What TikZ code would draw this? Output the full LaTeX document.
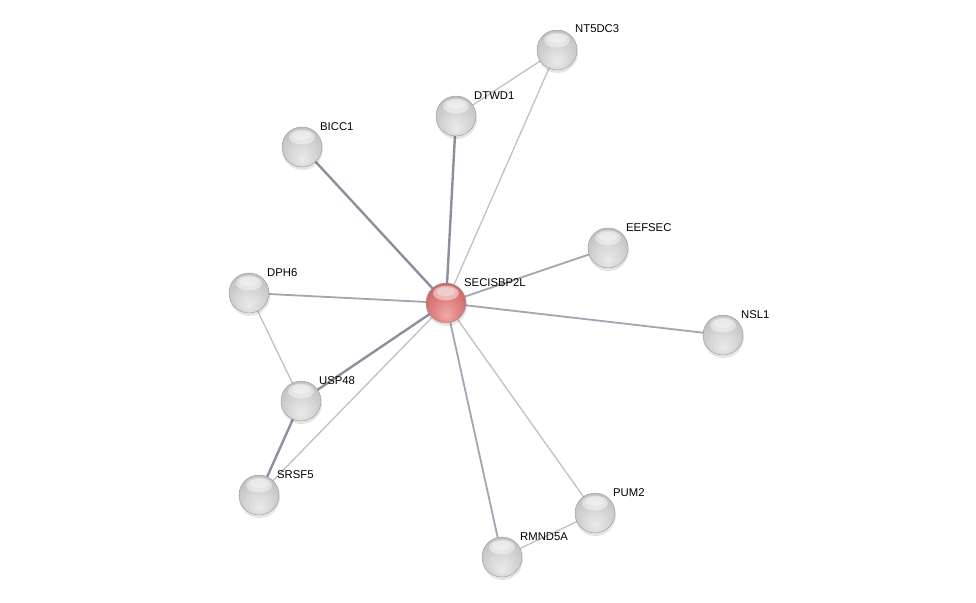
\documentclass[tikz,border=0pt]{standalone}
\usepackage{fontspec}
\setmainfont{Liberation Sans}
\pgfdeclareradialshading{greyball}{\pgfpoint{0bp}{-16bp}}{%
  color(0bp)=(white!92!black);
  color(16bp)=(white!84!black);
  color(30bp)=(white!76!black);
  color(42bp)=(white!64!black);
  color(50bp)=(white!50!black)}
\pgfdeclareradialshading{redball}{\pgfpoint{0bp}{-16bp}}{%
  color(0bp)=(red!30!white!95!black);
  color(16bp)=(red!42!white!88!black);
  color(30bp)=(red!50!white!80!black);
  color(42bp)=(red!58!white!66!black);
  color(50bp)=(red!62!white!52!black)}
\tikzset{
  edgethin/.style={draw=blue!6!white!80!black, line width=1.3pt},
  edgemid/.style={draw=blue!8!white!70!black, line width=1.8pt},
  edgethick/.style={draw=blue!10!white!62!black, line width=2.4pt},
  lbl/.style={font=\fontsize{11.3}{13}\selectfont, anchor=base west, inner sep=0pt},
}
\newcommand{\protnode}[5]{% name, x, y, label, shading
  \fill[black, opacity=0.10] (#2+0.5,#3+2.5) circle (20.5);
  \shade[shading=#5] (#2,#3) circle (20);
  \draw[black!40, line width=0.4pt] (#2,#3) circle (20);
  \fill[white, opacity=0.45] (#2,#3-10) ellipse (13 and 7.5);
  \fill[white, opacity=0.35] (#2,#3-11.5) ellipse (9.5 and 4.5);
  \node[circle, minimum size=40pt, inner sep=0pt] (#1) at (#2,#3) {};
  \node[lbl] at (#2+18,#3-17) {#4};
}
\begin{document}
\begin{tikzpicture}[x=1pt,y=-1pt]
\useasboundingbox[fill=white] (0,0) rectangle (976,602);
% coordinates
\coordinate (cSEC) at (446,303);
\coordinate (cNT5) at (557,50);
\coordinate (cDTW) at (456,116);
\coordinate (cBIC) at (302,147);
\coordinate (cEEF) at (608,248);
\coordinate (cDPH) at (249,293);
\coordinate (cNSL) at (723,335);
\coordinate (cUSP) at (301,401);
\coordinate (cSRS) at (259,495);
\coordinate (cPUM) at (595,513);
\coordinate (cRMN) at (502,557);
% edges
\draw[edgethin] (cSEC) -- (cNT5);
\draw[edgethin] (cDTW) -- (cNT5);
\draw[edgethick] (cSEC) -- (cDTW);
\draw[edgethick] (cSEC) -- (cBIC);
\draw[edgemid] (cSEC) -- (cEEF);
\draw[edgemid] (cSEC) -- (cDPH);
\draw[edgemid] (cSEC) -- (cNSL);
\draw[edgethick] (cSEC) -- (cUSP);
\draw[edgethin] (cSEC) -- (cSRS);
\draw[edgethin] (cSEC) -- (cPUM);
\draw[edgemid] (cSEC) -- (cRMN);
\draw[edgethin] (cDPH) -- (cUSP);
\draw[edgethick] (cUSP) -- (cSRS);
\draw[edgethin] (cPUM) -- (cRMN);
% nodes
\protnode{NT5DC3}{557}{50}{NT5DC3}{greyball}
\protnode{DTWD1}{456}{116}{DTWD1}{greyball}
\protnode{BICC1}{302}{147}{BICC1}{greyball}
\protnode{EEFSEC}{608}{248}{EEFSEC}{greyball}
\protnode{DPH6}{249}{293}{DPH6}{greyball}
\protnode{NSL1}{723}{335}{NSL1}{greyball}
\protnode{USP48}{301}{401}{USP48}{greyball}
\protnode{SRSF5}{259}{495}{SRSF5}{greyball}
\protnode{PUM2}{595}{513}{PUM2}{greyball}
\protnode{RMND5A}{502}{557}{RMND5A}{greyball}
\protnode{SECISBP2L}{446}{303}{SECISBP2L}{redball}
\end{tikzpicture}
\end{document}
